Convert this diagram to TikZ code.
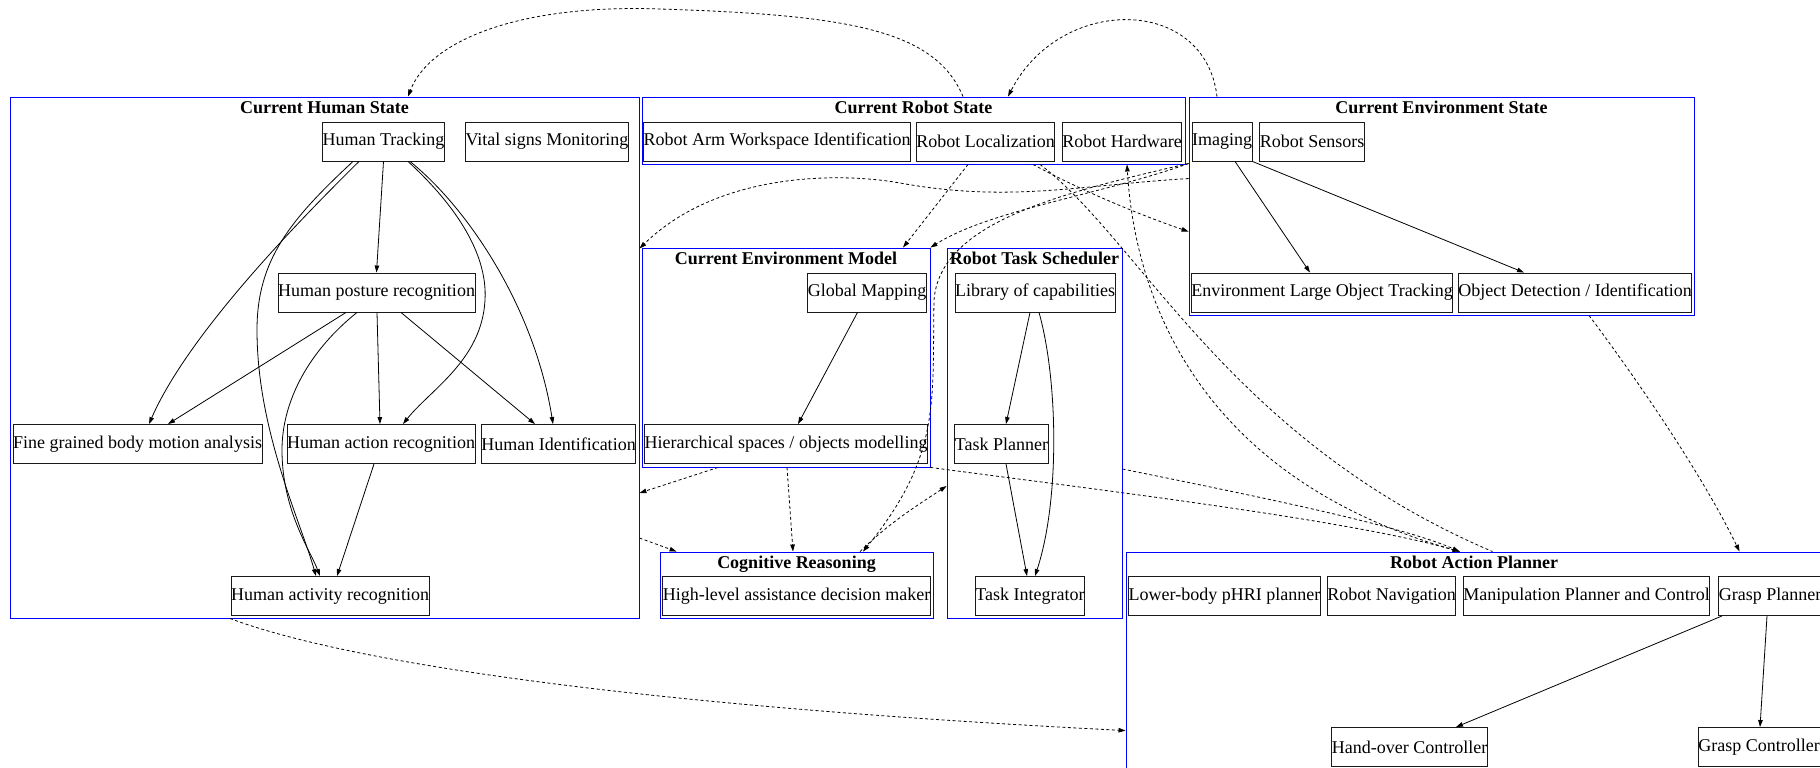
\documentclass[tikz,border=0pt]{standalone}
\usepackage{fontspec}
\setmainfont{Liberation Serif}
\usetikzlibrary{arrows.meta}
\begin{document}
\begin{tikzpicture}[x=1pt,y=-1pt,
  every node/.style={font=\fontsize{18}{21}\selectfont},
  box/.style={draw=black!90, line width=0.9pt, inner sep=0pt, minimum height=39pt},
  cluster/.style={draw=blue, line width=0.9pt, inner sep=0pt},
  title/.style={font=\fontsize{18}{21}\selectfont\bfseries, anchor=base, inner sep=0pt},
  link/.style={line width=0.8pt, -{Triangle[length=7pt,width=4.5pt]}},
  dlink/.style={link, dash pattern=on 3pt off 2.5pt},
  plainlink/.style={line width=0.8pt, dash pattern=on 3pt off 2.5pt},
]
\useasboundingbox (0,0) rectangle (1820,768);

% ---------- clusters ----------
\node[cluster, minimum width=629pt, minimum height=521pt] (hsC) at (324.5,357.5) {};
\node[cluster, minimum width=543pt, minimum height=67pt]  (rsC) at (913.5,130.5) {};
\node[cluster, minimum width=505pt, minimum height=218pt] (esC) at (1441.5,206) {};
\node[cluster, minimum width=288pt, minimum height=219pt] (emC) at (786,357.5) {};
\node[cluster, minimum width=175pt, minimum height=370pt] (tsC) at (1034.5,433) {};
\node[cluster, minimum width=273pt, minimum height=66pt]  (crC) at (796.5,585) {};
\node[cluster, minimum width=696pt, minimum height=248pt] (apC) at (1474,676) {};

\node[title] (hsT) at (324.5,113) {Current Human State};
\node[title] (rsT) at (913.5,113) {Current Robot State};
\node[title] (esT) at (1441.5,113) {Current Environment State};
\node[title] (emT) at (786,264) {Current Environment Model};
\node[title] (tsT) at (1034.5,264) {Robot Task Scheduler};
\node[title] (crT) at (796.5,568) {Cognitive Reasoning};
\node[title] (apT) at (1474,568) {Robot Action Planner};

% ---------- human state ----------
\node[box, minimum width=121pt] (ht)   at (383.5,141.5) {Human Tracking};
\node[box, minimum width=162pt] (vsm)  at (547,141.5)   {Vital signs Monitoring};
\node[box, minimum width=195pt] (hpr)  at (376.5,292.5) {Human posture recognition};
\node[box, minimum width=247pt] (fgb)  at (137.5,444)   {Fine grained body motion analysis};
\node[box, minimum width=186pt] (har)  at (381,444)     {Human action recognition};
\node[box, minimum width=153pt] (hid)  at (558.5,444)   {Human Identification};
\node[box, minimum width=196pt] (hact) at (330,596)     {Human activity recognition};

% ---------- robot state ----------
\node[box, minimum width=264pt] (raw) at (777,141.5)    {Robot Arm Workspace Identification};
\node[box, minimum width=137pt] (rl)  at (985.5,141.5)  {Robot Localization};
\node[box, minimum width=118pt] (rh)  at (1122,141.5)   {Robot Hardware};

% ---------- environment state ----------
\node[box, minimum width=60pt]  (img)  at (1222,141.5) {Imaging};
\node[box, minimum width=104pt] (rs)   at (1312,141.5) {Robot Sensors};
\node[box, minimum width=260pt] (elot) at (1322,292.5) {Environment Large Object Tracking};
\node[box, minimum width=230pt] (odi)  at (1575,292.5) {Object Detection / Identification};

% ---------- environment model ----------
\node[box, minimum width=118pt] (gm)  at (867,292.5) {Global Mapping};
\node[box, minimum width=282pt] (hso) at (786,444)   {Hierarchical spaces / objects modelling};

% ---------- task scheduler ----------
\node[box, minimum width=160pt] (loc) at (1035,292.5) {Library of capabilities};
\node[box, minimum width=93pt]  (tp)  at (1001.5,444) {Task Planner};
\node[box, minimum width=108pt] (ti)  at (1030,596)   {Task Integrator};

% ---------- cognitive reasoning ----------
\node[box, minimum width=265pt] (hla) at (796.5,596) {High-level assistance decision maker};

% ---------- action planner ----------
\node[box, minimum width=191pt] (lbp) at (1224.5,596) {Lower-body pHRI planner};
\node[box, minimum width=127pt] (rn)  at (1391.5,596) {Robot Navigation};
\node[box, minimum width=245pt] (mpc) at (1586.5,596) {Manipulation Planner and Control};
\node[box, minimum width=104pt] (gp)  at (1770,596)   {Grasp Planner};
\node[box, minimum width=155pt] (hoc) at (1409.5,747) {Hand-over Controller};
\node[box, minimum width=122pt] (gc)  at (1759,747)   {Grasp Controller};

% ---------- solid links inside clusters ----------
\draw[link] (ht.south) -- (hpr.north);
\draw[link] ([xshift=-24.5pt]ht.south) .. controls (310,210) and (190,330) .. ([xshift=11.5pt]fgb.north);
\draw[link] ([xshift=-30.5pt]ht.south) .. controls (290,220) and (257,260) .. (257,330)
            .. controls (257,430) and (300,520) .. ([xshift=-14pt]hact.north);
\draw[link] ([xshift=24.5pt]ht.south) .. controls (450,200) and (488,250) .. (485,300)
            .. controls (482,360) and (430,390) .. ([xshift=22pt]har.north);
\draw[link] ([xshift=26.5pt]ht.south) .. controls (470,210) and (535,310) .. ([xshift=-5.5pt]hid.north);
\draw[link] ([xshift=-30.5pt]hpr.south) -- ([xshift=30.5pt]fgb.north);
\draw[link] ([xshift=-19.5pt]hpr.south) .. controls (310,350) and (282,400) .. (282,450)
            .. controls (282,510) and (310,550) .. ([xshift=-10pt]hact.north);
\draw[link] ([xshift=0.5pt]hpr.south) -- ([xshift=-1pt]har.north);
\draw[link] ([xshift=24.5pt]hpr.south) -- ([xshift=-23.5pt]hid.north);
\draw[link] ([xshift=-7pt]har.south) -- ([xshift=7pt]hact.north);

\draw[link] ([xshift=13pt]img.south) -- ([xshift=-12pt]elot.north);
\draw[link] (img.south east) -- ([xshift=-51pt]odi.north);

\draw[link] ([xshift=-9.5pt]gm.south) -- ([xshift=12pt]hso.north);

\draw[link] ([xshift=-5pt]loc.south) -- ([xshift=4.5pt]tp.north);
\draw[link] ([xshift=4pt]loc.south) .. controls (1058,380) and (1060,500) .. ([xshift=5pt]ti.north);
\draw[link] ([xshift=4.5pt]tp.south) -- ([xshift=-3pt]ti.north);

\draw[link] ([xshift=-48pt]gp.south) -- ([xshift=46.5pt]hoc.north);
\draw[link] ([xshift=-3pt]gp.south) -- ([xshift=1pt]gc.north);

% ---------- dashed links between clusters ----------
\draw[dlink] ([xshift=49.5pt]rsC.north) .. controls (935,30) and (850,15) .. (660,9)
             .. controls (520,4) and (430,40) .. ([xshift=83.5pt]hsC.north);
\draw[dlink] ([xshift=-224.5pt]esC.north) .. controls (1205,-5) and (1060,-5) .. ([xshift=94.5pt]rsC.north);
\draw[dlink] ([yshift=-82pt]esC.north west) .. controls (1080,185) and (1010,203) .. (900,183)
             .. controls (845,173) and (720,170) .. ([yshift=-152pt]hsC.north east);
\draw[dlink] ([xshift=54.5pt]rsC.south) -- ([xshift=117pt]emC.north);
\draw[dlink] ([xshift=119.5pt]rsC.south) .. controls (1080,190) and (1140,215) .. ([yshift=-135pt]esC.north west);
\draw[dlink] ([yshift=-67pt]esC.north west) .. controls (1100,195) and (990,210) .. (emC.north east);
\draw[dlink] ([yshift=-67pt]esC.north west) .. controls (1050,195) and (940,225) .. (934,300)
             .. controls (932,400) and (942,455) .. ([xshift=66.5pt]crC.north);
\draw[dlink] ([xshift=334pt]apC.north west) .. controls (1200,480) and (1135,300) .. ([xshift=213.5pt]rsC.south);
\draw[plainlink] ([xshift=126.5pt]rsC.south) .. controls (1140,240) and (1230,440) .. ([xshift=367pt]apC.north west);
\draw[dlink] ([xshift=-68pt]emC.south) -- ([yshift=-135.5pt]hsC.east);
\draw[dlink] ([xshift=1pt]emC.south) -- ([xshift=-3.5pt]crC.north);
\draw[dlink] ([yshift=-180.5pt]hsC.east) -- ([xshift=17pt]crC.north west);
\draw[dlink] ([xshift=63.5pt]crC.north) .. controls (890,522) and (918,505) .. ([yshift=-53pt]tsC.west);
\draw[dlink] (emC.south east) .. controls (1100,490) and (1350,520) .. ([xshift=334pt]apC.north west);
\draw[dlink] ([yshift=-36pt]tsC.east) .. controls (1250,495) and (1400,525) .. ([xshift=334pt]apC.north west);
\draw[dlink] ([xshift=147.5pt]esC.south) .. controls (1630,370) and (1700,470) .. ([xshift=614pt]apC.north west);
\draw[dlink] ([xshift=-94.5pt]hsC.south) .. controls (340,660) and (620,705) .. ([yshift=-179pt]apC.north west);
\end{tikzpicture}
\end{document}
